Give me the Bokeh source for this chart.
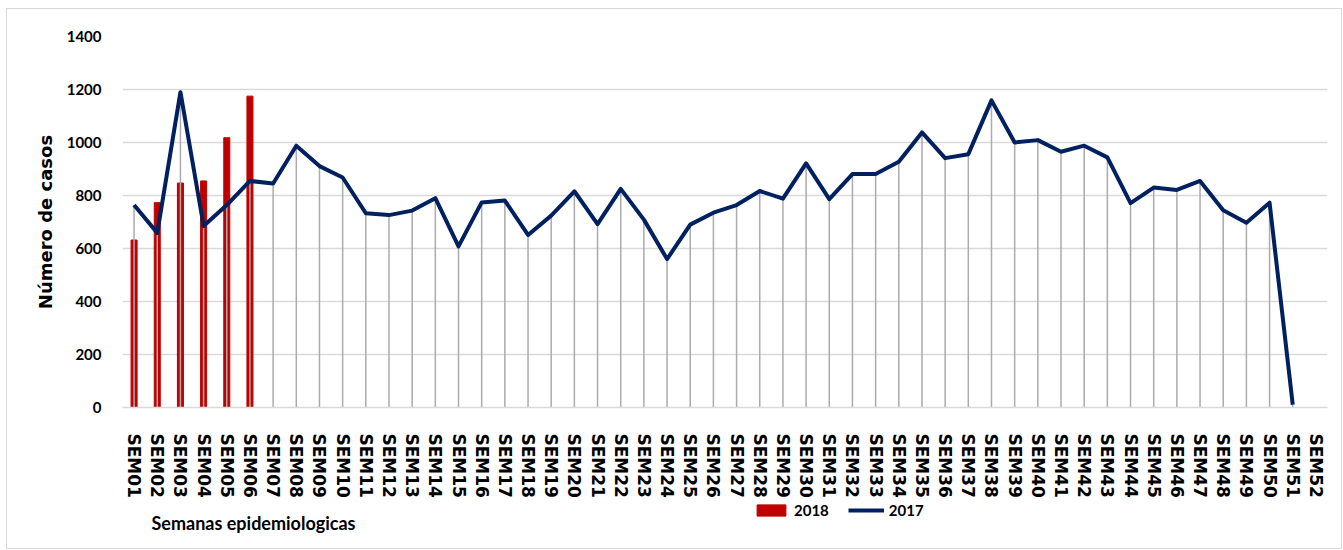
from bokeh.plotting import figure
from bokeh.layouts import column
from bokeh.models import Range1d, FixedTicker, Legend, LegendItem, Label, ColumnDataSource
from bokeh.embed import file_html
from bokeh.resources import INLINE

weeks = ["SEM01", "SEM02", "SEM03", "SEM04", "SEM05", "SEM06", "SEM07", "SEM08", "SEM09", "SEM10",
         "SEM11", "SEM12", "SEM13", "SEM14", "SEM15", "SEM16", "SEM17", "SEM18", "SEM19", "SEM20",
         "SEM21", "SEM22", "SEM23", "SEM24", "SEM25", "SEM26", "SEM27", "SEM28", "SEM29", "SEM30",
         "SEM31", "SEM32", "SEM33", "SEM34", "SEM35", "SEM36", "SEM37", "SEM38", "SEM39", "SEM40",
         "SEM41", "SEM42", "SEM43", "SEM44", "SEM45", "SEM46", "SEM47", "SEM48", "SEM49", "SEM50",
         "SEM51", "SEM52"]

cases_2017 = [764, 659, 1190, 685, 764, 855, 845, 988, 911, 868,
              733, 726, 743, 790, 608, 774, 781, 651, 724, 816,
              692, 825, 709, 560, 690, 735, 764, 817, 788, 921,
              786, 881, 881, 927, 1038, 941, 956, 1159, 1000, 1009,
              965, 988, 944, 771, 830, 821, 855, 744, 697, 773, 10]

cases_2018 = [632, 773, 847, 855, 1018, 1175]

y_ticks = [0, 200, 400, 600, 800, 1000, 1200, 1400]

RED = "#C00000"
NAVY = "#002060"

weeks_2017 = weeks[:len(cases_2017)]
weeks_2018 = weeks[:len(cases_2018)]

src17 = ColumnDataSource(dict(x=weeks_2017, y=cases_2017, y0=[0] * len(cases_2017)))
src18 = ColumnDataSource(dict(x=weeks_2018, top=cases_2018))

# ---------------- main chart ----------------
p = figure(x_range=weeks, y_range=Range1d(0, 1400), width=1334, height=491,
           output_backend="svg", toolbar_location=None,
           min_border_left=115, min_border_right=14, min_border_top=27, min_border_bottom=91)
p.outline_line_color = None
p.background_fill_color = "white"

p.xgrid.grid_line_color = None
p.ygrid.grid_line_color = "#d9d9d9"
p.ygrid.grid_line_width = 1.5
p.yaxis.ticker = FixedTicker(ticks=y_ticks)

p.vbar(x="x", top="top", width=0.26, source=src18, color=RED)
p.segment(x0="x", y0="y0", x1="x", y1="y", source=src17, line_color="#ABABAB", line_width=1.5)
p.line(x="x", y="y", source=src17, line_color=NAVY, line_width=4, line_join="round")

for ax in (p.xaxis, p.yaxis):
    ax.axis_line_color = None
    ax.major_tick_line_color = None
    ax.minor_tick_line_color = None

p.yaxis.major_label_text_font = "Lato"
p.yaxis.major_label_text_font_style = "bold"
p.yaxis.major_label_text_font_size = "15px"
p.yaxis.major_label_text_color = "black"
p.yaxis.major_label_standoff = 15
p.yaxis.axis_label = "Número de casos"
p.yaxis.axis_label_text_font = "DejaVu Sans"
p.yaxis.axis_label_text_font_style = "bold"
p.yaxis.axis_label_text_font_size = "18px"
p.yaxis.axis_label_text_color = "black"
p.yaxis.axis_label_standoff = 8

p.xaxis.major_label_orientation = "vertical"
p.xaxis.major_label_text_font = "DejaVu Sans"
p.xaxis.major_label_text_font_style = "bold"
p.xaxis.major_label_text_font_size = "17px"
p.xaxis.major_label_text_color = "black"
p.xaxis.major_label_standoff = 20
p.xaxis.axis_line_color = "#d9d9d9"
p.xaxis.axis_line_width = 1.5

# ---------------- footer strip: axis title + legend ----------------
f = figure(width=1334, height=48, x_range=Range1d(0, 1), y_range=Range1d(0, 1),
           output_backend="svg", toolbar_location=None,
           x_axis_type=None, y_axis_type=None,
           min_border_left=0, min_border_right=0, min_border_top=0, min_border_bottom=0)
f.outline_line_color = None
f.xgrid.grid_line_color = None
f.ygrid.grid_line_color = None

f.add_layout(Label(x=29, y=26, x_units="screen", y_units="screen",
                   text="Semanas epidemiologicas", text_font="Lato",
                   text_font_size="18px", text_font_style="bold", text_color="black",
                   text_baseline="alphabetic"))

# legend proxies (kept outside the visible range of the footer strip)
leg_bar = f.vbar(x=[-5], top=[-5], width=0.1, color=RED)
leg_line = f.line(x=[-5, -4], y=[-5, -5], line_color=NAVY, line_width=4)

legend = Legend(items=[LegendItem(label="2018", renderers=[leg_bar]),
                       LegendItem(label="2017", renderers=[leg_line])],
                location=(631, 29), orientation="horizontal")
legend.padding = 0
legend.margin = 0
legend.spacing = 19
legend.glyph_width = 36
legend.glyph_height = 14
legend.label_height = 14
legend.label_standoff = 5
legend.border_line_color = None
legend.background_fill_alpha = 0
legend.label_text_font = "Lato"
legend.label_text_font_style = "bold"
legend.label_text_font_size = "15px"
legend.label_text_color = "black"
f.add_layout(legend)

layout = column(p, f, spacing=0)
layout.styles = {"border": "1px solid #d9d9d9", "margin-left": "6px", "margin-top": "8px"}

open("out.html", "w").write(file_html(layout, INLINE))
